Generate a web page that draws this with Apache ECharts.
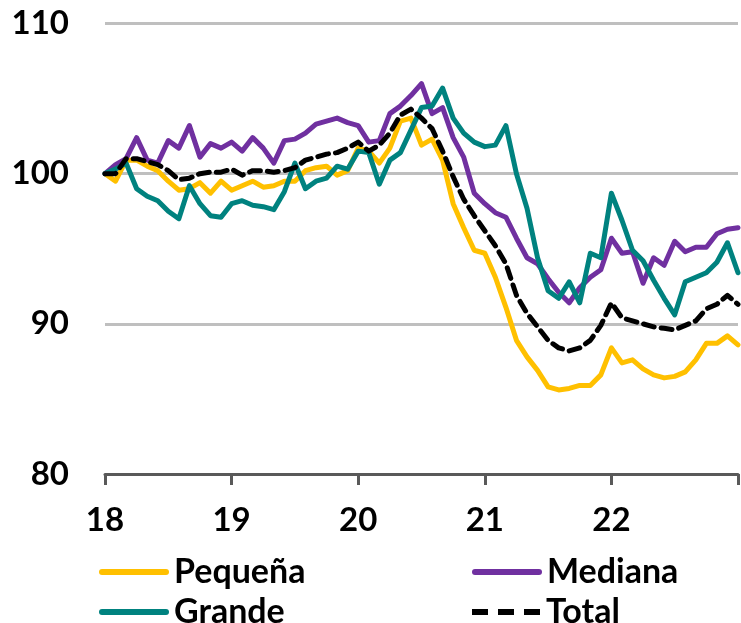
<!DOCTYPE html>
<html>
<head>
<meta charset="utf-8">
<script src="https://cdn.jsdelivr.net/npm/echarts@6/dist/echarts.min.js"></script>
<style>
  html, body { margin: 0; padding: 0; background: #fff; }
  #grafico { width: 741px; height: 623px; }
</style>
</head>
<body>
<div id="grafico"></div>
<script>
// indices mensuales, ene-18 = 100 (un punto por mes, ene-18 a ene-23)
var etiquetasAnio = ['18', '19', '20', '21', '22'];
var ticksY = [80, 90, 100, 110];

var pequena = [
    100.0, 99.5, 100.9, 100.9, 100.5, 100.2, 99.5, 98.9, 99.0, 99.4, 98.7, 99.5,
    98.9, 99.2, 99.5, 99.1, 99.2, 99.5, 99.5, 100.2, 100.4, 100.5, 99.9, 100.2,
    101.7, 101.5, 100.7, 101.7, 103.5, 103.7, 101.9, 102.3, 100.9, 98.0, 96.4, 94.9,
    94.7, 93.1, 91.1, 88.9, 87.8, 86.9, 85.8, 85.6, 85.7, 85.9, 85.9, 86.6,
    88.4, 87.4, 87.6, 87.0, 86.6, 86.4, 86.5, 86.8, 87.6, 88.7, 88.7, 89.2,
    88.6
];
var mediana = [
    100.0, 100.6, 101.0, 102.4, 100.9, 100.7, 102.2, 101.7, 103.2, 101.1, 102.0, 101.7,
    102.1, 101.5, 102.4, 101.7, 100.7, 102.2, 102.3, 102.7, 103.3, 103.5, 103.7, 103.4,
    103.2, 102.1, 102.2, 104.0, 104.5, 105.2, 106.0, 104.0, 104.4, 102.4, 101.1, 98.7,
    98.0, 97.4, 97.1, 95.7, 94.4, 94.0, 93.0, 92.1, 91.4, 92.4, 93.1, 93.6,
    95.7, 94.7, 94.8, 92.7, 94.4, 93.9, 95.5, 94.8, 95.1, 95.1, 96.0, 96.3,
    96.4
];
var grande = [
    100.0, 100.3, 100.7, 99.0, 98.5, 98.2, 97.5, 97.0, 99.2, 98.0, 97.2, 97.1,
    98.0, 98.2, 97.9, 97.8, 97.6, 98.8, 100.7, 99.0, 99.5, 99.7, 100.5, 100.3,
    101.5, 101.4, 99.3, 100.9, 101.4, 102.9, 104.4, 104.5, 105.7, 103.7, 102.7, 102.1,
    101.8, 101.9, 103.2, 100.0, 97.7, 94.4, 92.2, 91.7, 92.8, 91.4, 94.7, 94.4,
    98.7, 96.9, 94.9, 94.2, 92.9, 91.7, 90.6, 92.8, 93.1, 93.4, 94.1, 95.4,
    93.4
];
var total = [
    100.0, 100.0, 101.0, 101.0, 100.8, 100.6, 100.2, 99.6, 99.7, 100.0, 100.1, 100.1,
    100.3, 99.9, 100.2, 100.2, 100.1, 100.2, 100.4, 100.9, 101.1, 101.3, 101.4, 101.7,
    102.1, 101.5, 101.9, 102.7, 103.9, 104.3, 103.7, 103.0, 101.5, 99.8, 98.3, 97.2,
    96.2, 95.2, 94.0, 91.9, 90.7, 89.8, 88.9, 88.4, 88.2, 88.4, 88.9, 89.9,
    91.4, 90.4, 90.2, 90.0, 89.8, 89.7, 89.6, 89.9, 90.2, 91.0, 91.3, 91.9,
    91.3
];

function aPares(valores) {
    return valores.map(function (v, i) { return [i, v]; });
}

document.addEventListener('DOMContentLoaded', function () {
    var chartDom = document.getElementById('grafico');
    var myChart = echarts.init(chartDom, null, { renderer: 'canvas' });
    var option;

    var fuente = 'Lato';
    var textoLeyenda = { fontFamily: fuente, fontWeight: 'bold', fontSize: 34, color: '#000', lineHeight: 34 };
    var lineaSolida = 'path://M3,0 H67 A3,3 0 0 1 67,6 H3 A3,3 0 0 1 3,0 Z';
    var lineaGuiones = 'path://M0,0 H16 V6 H0 Z M26,0 H42 V6 H26 Z M52,0 H68 V6 H52 Z';

    function leyenda(nombre, x, y, icono) {
        return {
            left: x, top: y,
            itemWidth: 70, itemHeight: 6,
            icon: icono,
            textStyle: textoLeyenda,
            data: [nombre]
        };
    }

    option = {
        animation: false,
        backgroundColor: '#fff',
        grid: { left: 105, right: 1, top: 23.5, bottom: 149 },
        legend: [
            leyenda('Pequeña', 94, 550, lineaSolida),
            leyenda('Grande', 94, 590, lineaSolida),
            leyenda('Mediana', 467, 550, lineaSolida),
            leyenda('Total', 467, 590, lineaGuiones)
        ],
        xAxis: {
            type: 'value',
            min: 0,
            max: 60,
            interval: 12,
            z: 5,
            axisLine: { show: true, onZero: false, lineStyle: { color: '#595959', width: 3 } },
            axisTick: { show: true, length: 11, lineStyle: { color: '#595959', width: 3 } },
            splitLine: { show: false },
            axisLabel: {
                margin: 30,
                fontFamily: fuente, fontWeight: 'bold', fontSize: 33, color: '#000',
                formatter: function (v) { return etiquetasAnio[v / 12] || ''; }
            }
        },
        yAxis: {
            type: 'value',
            min: ticksY[0],
            max: ticksY[ticksY.length - 1],
            interval: 10,
            axisLine: { show: false },
            axisTick: { show: false },
            splitLine: { show: true, lineStyle: { color: '#bfbfbf', width: 3 } },
            axisLabel: {
                margin: 36,
                fontFamily: fuente, fontWeight: 'bold', fontSize: 33, color: '#000'
            }
        },
        series: [
            {
                name: 'Pequeña', type: 'line', data: aPares(pequena),
                symbol: 'none', color: '#ffc000',
                lineStyle: { color: '#ffc000', width: 5, cap: 'round', join: 'round' }
            },
            {
                name: 'Mediana', type: 'line', data: aPares(mediana),
                symbol: 'none', color: '#7030a0',
                lineStyle: { color: '#7030a0', width: 5, cap: 'round', join: 'round' }
            },
            {
                name: 'Grande', type: 'line', data: aPares(grande),
                symbol: 'none', color: '#00827f',
                lineStyle: { color: '#00827f', width: 5, cap: 'round', join: 'round' }
            },
            {
                name: 'Total', type: 'line', data: aPares(total),
                symbol: 'none', color: '#000',
                lineStyle: { color: '#000', width: 5, type: [11, 7], cap: 'round', join: 'round' }
            }
        ]
    };

    option && myChart.setOption(option);
});
</script>
</body>
</html>
